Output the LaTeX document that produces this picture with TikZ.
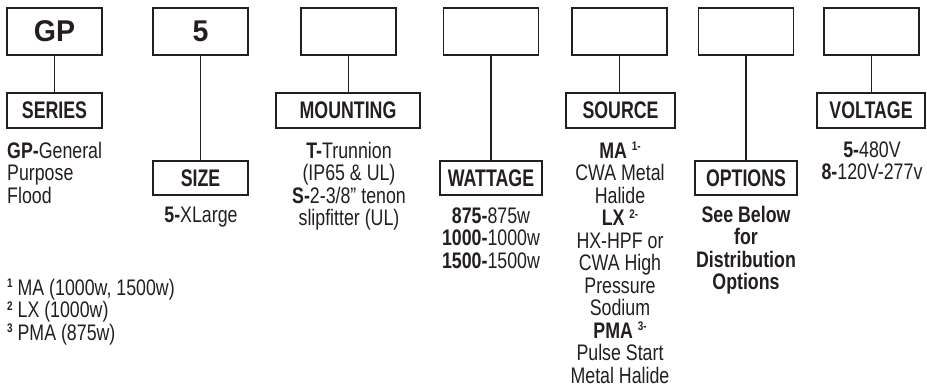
\documentclass[tikz,border=0pt]{standalone}
\usepackage{fontspec}
\setmainfont{Liberation Sans}[FakeStretch=0.79]
\newfontfamily\bigfont{Liberation Sans}[FakeStretch=0.95]
\newfontfamily\labfont{Liberation Sans}[FakeStretch=0.74]
\definecolor{ink}{RGB}{35,31,32}
\newcommand\bodysize{\fontsize{22.5}{22.5}\selectfont}
\newcommand\fnm[1]{\raisebox{7.5pt}{\fontsize{12.5}{12.5}\selectfont\bfseries #1}}
\newcommand\topstrut{\rule{0pt}{17pt}}
\tikzset{
  codebox/.style={draw=ink, line width=1.4pt, minimum width=95pt, minimum height=47pt, inner sep=0pt,
    font=\bigfont\bfseries\fontsize{30}{30}\selectfont, text=ink},
  labelbox/.style={draw=ink, line width=1.4pt, minimum height=35pt, inner sep=0pt,
    font=\labfont\bfseries\fontsize{24}{24}\selectfont, text=ink},
  txt/.style={inner sep=0pt, anchor=north, align=center, font=\bodysize, text=ink},
  txtl/.style={inner sep=0pt, anchor=north west, align=left, font=\bodysize, text=ink},
  conn/.style={draw=ink, line width=1.2pt}
}
\begin{document}
\begin{tikzpicture}[x=1pt,y=-1pt]
\useasboundingbox (0,0) rectangle (927,388);
% top code boxes
\node[codebox] (gp) at (54.5,31.5) {GP};
\node[codebox] (sz) at (200.5,31.5) {5};
\node[codebox] (mt) at (348.5,31.5) {};
\node[codebox] (wt) at (491,31.5) {};
\node[codebox] (sr) at (619.5,31.5) {};
\node[codebox] (op) at (746,31.5) {};
\node[codebox] (vt) at (871.5,31.5) {};
% label boxes
\node[labelbox, minimum width=95pt] (series) at (54.5,110.5) {SERIES};
\node[labelbox, minimum width=95pt, minimum height=34pt] (size) at (200.5,178) {SIZE};
\node[labelbox, minimum width=144pt] (mounting) at (348,110.5) {MOUNTING};
\node[labelbox, minimum width=102pt, minimum height=34pt] (wattage) at (491,178) {WATTAGE};
\node[labelbox, minimum width=109pt] (source) at (620.5,110.5) {SOURCE};
\node[labelbox, minimum width=102pt, minimum height=34pt] (options) at (746,178) {OPTIONS};
\node[labelbox, minimum width=108pt] (voltage) at (871,110.5) {VOLTAGE};
% connectors
\draw[conn] (gp.south) -- (gp.south |- series.north);
\draw[conn] (sz.south) -- (sz.south |- size.north);
\draw[conn] (mt.south) -- (mt.south |- mounting.north);
\draw[conn] (wt.south) -- (wt.south |- wattage.north);
\draw[conn] (sr.south) -- (sr.south |- source.north);
\draw[conn] (op.south) -- (op.south |- options.north);
\draw[conn] (vt.south) -- (vt.south |- voltage.north);
% descriptions
\node[txtl] (seriestxt) at (7,141) {\topstrut\textbf{GP-}General\\Purpose\\Flood};
\node[txt] (sizetxt) at (201,205) {\topstrut\textbf{5-}XLarge};
\node[txt] (mounttxt) at (349,141) {\topstrut\textbf{T-}Trunnion\\(IP65 \& UL)\\\textbf{S-}2-3/8” tenon\\slipfitter (UL)};
\node[txt] (watttxt) at (491,206) {\topstrut\textbf{875-}875w\\\textbf{1000-}1000w\\\textbf{1500-}1500w};
\node[txt] (sourcetxt) at (620,141) {\topstrut\textbf{MA} \fnm{1-}\\CWA Metal\\Halide\\\textbf{LX} \fnm{2-}\\HX-HPF or\\CWA High\\Pressure\\Sodium\\\textbf{PMA} \fnm{3-}\\Pulse Start\\Metal Halide};
\node[txt, font=\bodysize\bfseries] (optstxt) at (746,205) {\topstrut See Below\\for\\Distribution\\Options};
\node[txt] (volttxt) at (872,140) {\topstrut\textbf{5-}480V\\\textbf{8-}120V-277v};
\node[txtl] (notes) at (7,278) {\topstrut\fnm{1} MA (1000w, 1500w)\\\fnm{2} LX (1000w)\\\fnm{3} PMA (875w)};
\end{tikzpicture}
\end{document}
